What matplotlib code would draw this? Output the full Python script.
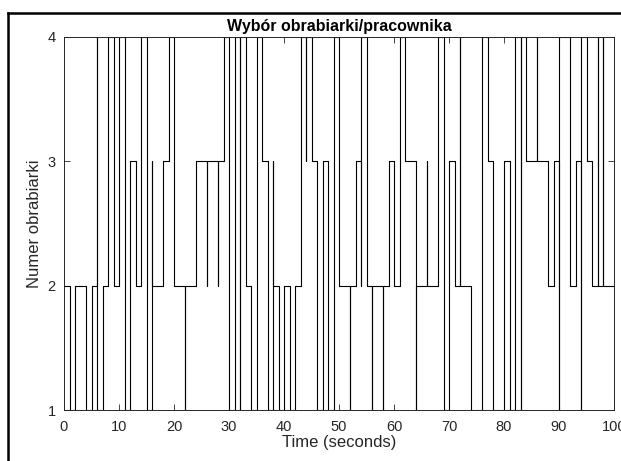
import numpy as np
import matplotlib
matplotlib.use("Agg")
import matplotlib.pyplot as plt
from matplotlib.lines import Line2D

plt.rcParams['font.family'] = ['Liberation Sans', 'DejaVu Sans']

# wybrana obrabiarka w kolejnych sekundach (wartosc na [k, k+1))
levels = [2, 1, 2, 2, 1, 2, 1, 2, 4, 2,
          4, 1, 3, 2, 4, 1, 2, 2, 3, 4,
          2, 2, 2, 2, 3, 3, 3, 3, 3, 4,
          1, 4, 4, 2, 1, 4, 3, 1, 2, 1,
          2, 1, 2, 4, 4, 3, 1, 3, 1, 4,
          2, 2, 2, 3, 4, 2, 2, 2, 2, 3,
          2, 4, 3, 3, 2, 2, 2, 2, 4, 1,
          3, 2, 2, 2, 1, 1, 4, 3, 1, 1,
          3, 1, 4, 4, 3, 3, 3, 3, 2, 3,
          4, 4, 2, 3, 4, 3, 2, 2, 2, 2]

# chwilowe "szpilki" (wartosc przez ktora sygnal przechodzi w danej chwili)
spike_times = [6, 16, 22, 26, 28, 32, 38, 44, 52, 54, 56, 58, 64, 66, 72, 83, 86, 90, 94, 97, 98]
spike_levels = [4, 3, 1, 2, 2, 1, 3, 3, 1, 2, 1, 1, 1, 3, 4, 1, 4, 1, 1, 4, 4]

spikes = dict(zip(spike_times, spike_levels))
t = []
v = []
for k, lev in enumerate(levels):
    if k in spikes:
        t.append(k)
        v.append(spikes[k])
    t.append(k)
    v.append(lev)
t.append(len(levels))
v.append(levels[-1])

fig = plt.figure(figsize=(6.21, 4.61), dpi=100)
ax = fig.add_axes([64/621, 1-410/461, 550/621, 373/461])

ax.step(t, v, where='post', color='black', lw=0.8)

ax.set_xlim(0, 100)
ax.set_ylim(1, 4)
ax.set_xticks(np.arange(0, 101, 10))
ax.set_yticks([1, 2, 3, 4])
ax.tick_params(direction='in', top=True, right=True, length=4, width=0.6,
               labelsize=10.5, colors='#262626')
ax.tick_params(axis='x', pad=7)
ax.tick_params(axis='y', pad=6)
for s in ax.spines.values():
    s.set_linewidth(0.7)
    s.set_color('#262626')

ax.set_title('Wybór obrabiarki/pracownika', fontsize=11.5, fontweight='bold', pad=4)
ax.set_xlabel('Time (seconds)', fontsize=12, color='#262626', labelpad=1)
ax.set_ylabel('Numer obrabiarki', fontsize=12, color='#262626', labelpad=4)

# ramka okna (zrzut ekranu)
fig.add_artist(Line2D([8/621, 1.0], [1-13/461, 1-13/461], color='black', lw=1.8,
                      transform=fig.transFigure))
fig.add_artist(Line2D([8/621, 8/621], [0.0, 1-13/461], color='black', lw=1.8,
                      transform=fig.transFigure))

fig.savefig('out.png', dpi=100)
